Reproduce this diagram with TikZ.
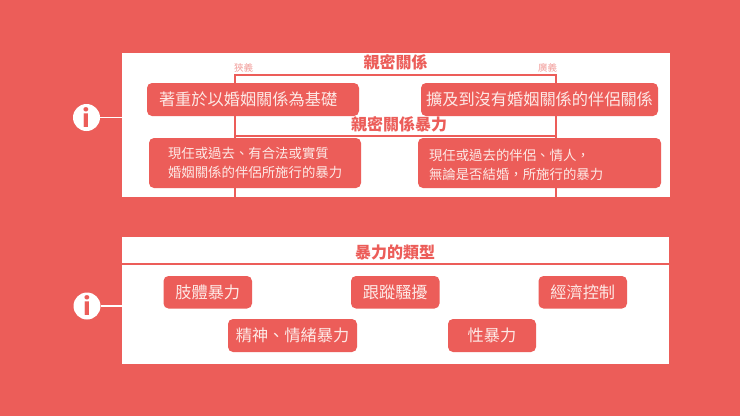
\documentclass[tikz,border=0pt]{standalone}
\usepackage{xcolor}
\usepackage{fontspec}
\usepackage{tikz}
\newfontfamily\cjk{Noto Sans CJK TC}
\definecolor{coral}{HTML}{EC5D59}
\definecolor{paletext}{HTML}{FDE9E6}
\definecolor{palelabel}{HTML}{F29E9B}

\begin{document}
\begin{tikzpicture}
	[x=1pt,y=-1pt,
	panel/.style={fill=white,inner sep=0pt},
	termbox/.style={fill=coral,rounded corners=5pt,text=paletext,inner sep=0pt,font=\cjk\fontsize{16.2}{16}\selectfont},
	defbox/.style={termbox,font=\cjk\fontsize{13.4}{19}\selectfont,align=left},
	heading/.style={text=coral,inner sep=0pt,font=\cjk\bfseries\fontsize{16}{16}\selectfont},
	sidelabel/.style={text=palelabel,inner sep=0pt,font=\cjk\fontsize{9.5}{10}\selectfont},
	infoicon/.style={circle,fill=white,minimum size=27pt,inner sep=0pt,text=coral,font=\cjk\bfseries\fontsize{24}{24}\selectfont},
	rule/.style={coral,line width=1.6pt},
	stem/.style={white,line width=1.8pt}]
	\useasboundingbox[fill=coral] (0,0) rectangle (740,416);
	\node (upper) [panel,minimum width=547.5pt,minimum height=144.5pt] at (395.75,124.75) {};
	\node (lower) [panel,minimum width=547pt,minimum height=127pt] at (395.5,300.5) {};
	\coordinate (narrowtop) at (235,75);
	\coordinate (broadtop) at (556,75);
	\coordinate (narrowmid) at (235,136);
	\coordinate (broadmid) at (556,136);
	\coordinate (narrowend) at (235,197);
	\coordinate (broadend) at (556,197);
	\coordinate (typeleft) at (122,264);
	\coordinate (typeright) at (669,264);
	\draw[rule] (narrowend) -- (narrowtop) -- (broadtop) -- (broadend);
	\draw[rule] (narrowmid) -- (broadmid);
	\draw[rule] (typeleft) -- (typeright);

	\node (relation) [heading] at (395.5,62) {親密關係};
	\node (violence) [heading] at (399,124) {親密關係暴力};
	\node (narrow) [sidelabel] at (243.5,67.5) {狹義};
	\node (broad) [sidelabel] at (547.5,67.5) {廣義};
	\node (marriage) [termbox,text width=188pt,inner xsep=12pt,minimum height=33pt,align=left] at (253,99.5) {著重於以婚姻關係為基礎};
	\node (partner) [termbox,minimum width=237pt,minimum height=33pt] at (539.5,99.5) {擴及到沒有婚姻關係的伴侶關係};
	\node (narrowdef) [defbox,text width=174pt,inner xsep=19pt,minimum height=50pt] at (255,163) {現任或過去、有合法或實質\\婚姻關係的伴侶所施行的暴力};
	\node (broaddef) [defbox,minimum width=243pt,minimum height=50pt] at (539.5,163) {};
	\node (broadtext) [defbox,fill=none,text width=221pt] at (539.5,164.8) {現任或過去的伴侶、情人^^^^ff0c\\無論是否結婚^^^^ff0c所施行的暴力};

	\node (types) [heading] at (395,252) {暴力的類型};
	\node (physical) [termbox,minimum width=88.5pt,minimum height=32.5pt] at (207.75,292.25) {肢體暴力};
	\node (stalking) [termbox,minimum width=88.5pt,minimum height=32.5pt] at (395.25,292.25) {跟蹤騷擾};
	\node (economic) [termbox,minimum width=88.5pt,minimum height=32.5pt] at (582.75,292.25) {經濟控制};
	\node (mental) [termbox,minimum width=129pt,minimum height=33pt] at (292.5,335.5) {精神、情緒暴力};
	\node (sexual) [termbox,minimum width=88pt,minimum height=33pt] at (492,335.5) {性暴力};

	\node (info1) [infoicon] at (86.5,117.5) {i};
	\node (info2) [infoicon] at (87,306) {i};
	\draw[stem] (info1) -- (info1 -| upper.west);
	\draw[stem] (info2) -- (info2 -| lower.west);
\end{tikzpicture}
\end{document}
